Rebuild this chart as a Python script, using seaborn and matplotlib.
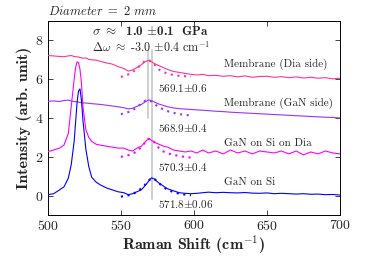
import numpy as np
import pandas as pd
import matplotlib
matplotlib.use('Agg')
import matplotlib.pyplot as plt
import seaborn as sns

# Raman shift grid (cm^-1) shared by the measured spectra
shift = [500, 504, 508, 511, 514, 516, 518, 519, 520, 521, 522, 523, 524, 526, 528,
         530, 533, 536, 540, 544, 548, 552, 555, 558, 561, 564, 567, 569, 571, 573,
         576, 579, 582, 586, 590, 594, 598, 602, 606, 610, 615, 620, 625, 630, 635,
         640, 645, 650, 655, 660, 665, 670, 675, 680, 685, 690, 695, 700]

# measured spectra (already offset vertically)
gan_si = [0.05, 0.1, 0.3, 0.45, 0.9, 1.6, 2.8, 3.8, 4.8, 5.4, 5.5, 4.9, 3.9, 2.4, 1.5,
          0.95, 0.7, 0.55, 0.4, 0.3, 0.2, 0.15, 0.05, 0.1, 0.2, 0.3, 0.55, 0.75, 0.92, 0.85,
          0.65, 0.5, 0.35, 0.25, 0.15, 0.12, 0.1, 0.12, 0.15, 0.18, 0.15, 0.17, 0.15, 0.14, 0.16,
          0.13, 0.12, 0.14, 0.1, 0.12, 0.1, 0.08, 0.1, 0.07, 0.08, 0.05, 0.06, 0.03]
gan_si_dia = [2.27, 2.35, 2.45, 2.6, 3.2, 4.6, 6.0, 6.6, 6.9, 6.85, 6.5, 5.8, 4.6, 3.4, 3.0,
              2.8, 2.65, 2.6, 2.55, 2.5, 2.45, 2.45, 2.35, 2.3, 2.45, 2.55, 2.8, 2.95, 2.85, 2.75,
              2.65, 2.55, 2.5, 2.35, 2.3, 2.25, 2.3, 2.2, 2.35, 2.2, 2.3, 2.15, 2.35, 2.2, 2.3,
              2.15, 2.3, 2.25, 2.2, 2.3, 2.15, 2.3, 2.1, 2.25, 2.15, 2.3, 2.2, 2.15]
mem_gan = [4.86, 4.88, 4.85, 4.9, 4.92, 4.88, 4.85, 4.84, 4.83, 4.82, 4.8, 4.8, 4.78, 4.77, 4.76,
           4.74, 4.72, 4.7, 4.66, 4.62, 4.58, 4.53, 4.47, 4.5, 4.6, 4.7, 4.85, 4.93, 4.9, 4.82,
           4.72, 4.65, 4.58, 4.52, 4.48, 4.46, 4.44, 4.42, 4.4, 4.38, 4.35, 4.33, 4.3, 4.28, 4.26,
           4.24, 4.22, 4.2, 4.18, 4.16, 4.14, 4.12, 4.1, 4.08, 4.06, 4.04, 4.03, 4.0]
mem_dia = [7.22, 7.2, 7.17, 7.16, 7.2, 7.22, 7.17, 7.16, 7.15, 7.14, 7.12, 7.1, 7.08, 7.1, 7.02,
           7.0, 6.98, 6.92, 6.84, 6.78, 6.65, 6.55, 6.42, 6.48, 6.6, 6.75, 6.92, 6.97, 6.9, 6.8,
           6.7, 6.6, 6.5, 6.4, 6.35, 6.3, 6.25, 6.22, 6.25, 6.18, 6.2, 6.15, 6.18, 6.12, 6.17,
           6.1, 6.14, 6.15, 6.1, 6.13, 6.08, 6.12, 6.06, 6.1, 6.05, 6.08, 6.02, 6.05]

# Lorentzian fits around the E2(high) peak
fit_shift = [550, 553, 556, 559, 562, 565, 567, 569, 571, 573, 576, 579, 582, 586, 590, 594, 598]
fit_gan_si = [-0.05, -0.02, 0.03, 0.12, 0.25, 0.45, 0.6, 0.78, 0.9, 0.85, 0.65, 0.45, 0.3, 0.18, 0.1, 0.05, 0.02]
fit_gan_si_dia = [2.0, 2.05, 2.1, 2.2, 2.35, 2.6, 2.78, 2.92, 2.9, 2.75, 2.45, 2.28, 2.18, 2.1, 2.04, 1.99, 1.96]
fit_mem_gan = [4.2, 4.25, 4.33, 4.45, 4.62, 4.82, 4.9, 4.92, 4.85, 4.72, 4.55, 4.45, 4.35, 4.27, 4.2, 4.16, 4.13]
fit_mem_dia = [6.12, 6.18, 6.28, 6.42, 6.62, 6.85, 6.95, 6.98, 6.9, 6.75, 6.5, 6.38, 6.28, 6.22, 6.17, 6.15, 6.13]

labels = ['Membrane (Dia side)', 'Membrane (GaN side)', 'GaN on Si on Dia', 'GaN on Si']
peak_labels = [r'569.1$\pm$0.6', r'568.9$\pm$0.4', r'570.3$\pm$0.4', r'571.8$\pm$0.06']
colors = ['#ff3399', '#9933ff', '#ff00ff', '#0000ff']

# peak position markers
marker_x = [568.8, 571.6]
marker_lo = [4.0, -0.15]
marker_hi = [7.5, 7.5]

sns.set_style('ticks')
plt.rcParams['font.family'] = ['cmr10', 'DejaVu Serif']
plt.rcParams['mathtext.fontset'] = 'cm'
plt.rcParams['axes.unicode_minus'] = False
plt.rcParams['axes.formatter.use_mathtext'] = True

fig = plt.figure(figsize=(3.74, 2.56), dpi=100)
ax = fig.add_axes([0.128, 0.16, 0.781, 0.758])

for x, lo, hi in zip(marker_x, marker_lo, marker_hi):
    ax.plot([x, x], [lo, hi], color='#cccccc', lw=1.3, zorder=1)

spectra = [mem_dia, mem_gan, gan_si_dia, gan_si]
fits = [fit_mem_dia, fit_mem_gan, fit_gan_si_dia, fit_gan_si]
for y, yf, c in zip(spectra, fits, colors):
    sns.lineplot(x=shift, y=y, color=c, lw=0.8, ax=ax, zorder=3)
    sns.lineplot(x=fit_shift, y=yf, color=c, lw=1.5, ls=(0, (1, 2.2)), ax=ax, zorder=2)

# curve labels
label_y = [6.77, 4.77, 2.7, 0.69]
for lab, yy in zip(labels, label_y):
    ax.text(620.5, yy, lab, fontsize=8, ha='left', va='center')
peak_y = [5.55, 3.51, 1.5, -0.45]
for lab, yy in zip(peak_labels, peak_y):
    ax.text(575.3, yy, lab, fontsize=8, ha='left', va='center')

# stress estimate
ax.text(530, 8.1, r'$\sigma\ \approx\ $ 1.0 $\pm$0.1  GPa', fontsize=9.3, ha='left',
        va='bottom', family='cmb10')
ax.text(530, 8.04, r'$\Delta\omega\ \approx\ $-3.0 $\pm$0.4 cm$^{-1}$', fontsize=8.7, ha='left',
        va='top')

ax.set_xlim(500, 700)
ax.set_ylim(-1, 9)
ax.set_xticks([500, 550, 600, 650, 700])
ax.set_yticks([0, 2, 4, 6, 8])
ax.tick_params(direction='in', top=True, right=True, length=3.5, width=0.6, labelsize=10, pad=3)
for s in ax.spines.values():
    s.set_linewidth(0.7)
    s.set_color('black')

ax.set_xlabel(r'Raman Shift (cm$^{\mathbf{-1}}$)', family='cmb10', fontsize=11.5, labelpad=0)
ax.set_ylabel('Intensity (arb. unit)', family='cmb10', fontsize=11.5, labelpad=2)
ax.set_title(r'$\mathit{Diameter\ =\ 2\ mm}$', loc='left', fontsize=9, pad=4)

fig.savefig('out.png', dpi=100)
